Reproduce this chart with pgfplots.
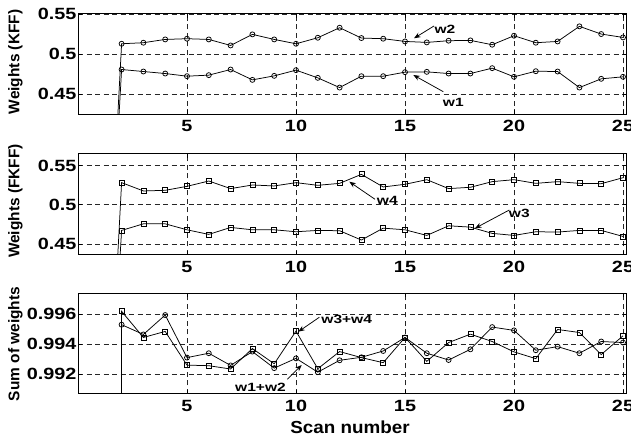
\documentclass[border=0pt]{standalone}
\usepackage{fontspec}
\setmainfont{Liberation Sans}
\newfontfamily\wide[FakeStretch=1.22]{Liberation Sans}
\newfontfamily\semi[FakeStretch=1.08]{Liberation Sans}
\newfontfamily\anno[FakeStretch=1.3]{Liberation Sans}
\usepackage{pgfplots}
\pgfplotsset{compat=1.18}
\usetikzlibrary{arrows.meta}

% KFF weights
\pgfplotstableread{
x w1 w2
1 0 0
2 0.4808 0.5129
3 0.4783 0.5142
4 0.4758 0.5183
5 0.4725 0.5192
6 0.4738 0.5183
7 0.4808 0.5108
8 0.4679 0.5246
9 0.4729 0.5183
10 0.4800 0.5129
11 0.4704 0.5204
12 0.4583 0.5329
13 0.4725 0.5200
14 0.4725 0.5192
15 0.4775 0.5158
16 0.4779 0.5146
17 0.4758 0.5167
18 0.4758 0.5171
19 0.4825 0.5117
20 0.4717 0.5229
21 0.4787 0.5142
22 0.4783 0.5158
23 0.4583 0.5346
24 0.4692 0.5250
25 0.4717 0.5208
}\kff
% FKFF weights
\pgfplotstableread{
x w3 w4
1 0 0
2 0.4674 0.5284
3 0.4758 0.5178
4 0.4758 0.5186
5 0.4682 0.5237
6 0.4623 0.5305
7 0.4712 0.5208
8 0.4682 0.5254
9 0.4682 0.5242
10 0.4657 0.5284
11 0.4674 0.5250
12 0.4670 0.5275
13 0.4551 0.5390
14 0.4703 0.5229
15 0.4682 0.5263
16 0.4610 0.5322
17 0.4733 0.5208
18 0.4716 0.5225
19 0.4636 0.5297
20 0.4610 0.5322
21 0.4657 0.5275
22 0.4653 0.5297
23 0.4674 0.5275
24 0.4674 0.5271
25 0.4597 0.5347
}\fkff
% sums
\pgfplotstableread{
x s12 s34
1 0 0
2 0.99530 0.99619
3 0.99465 0.99445
4 0.99594 0.99485
5 0.99311 0.99261
6 0.99340 0.99257
7 0.99259 0.99235
8 0.99351 0.99371
9 0.99241 0.99270
10 0.99306 0.99487
11 0.99214 0.99237
12 0.99293 0.99351
13 0.99313 0.99311
14 0.99355 0.99277
15 0.99445 0.99445
16 0.99340 0.99286
17 0.99295 0.99411
18 0.99366 0.99467
19 0.99514 0.99418
20 0.99492 0.99349
21 0.99360 0.99304
22 0.99384 0.99498
23 0.99340 0.99478
24 0.99418 0.99331
25 0.99411 0.99456
}\sums

\pgfplotsset{
  panel/.style={
    scale only axis, width=548.7bp,
    anchor=south west,
    xmin=0, xmax=25.17,
    xtick={5,10,15,20,25},
    xticklabels={5,10,15,20,25},
    grid=major,
    major grid style={black!85, dash pattern=on 5bp off 3.5bp, line width=0.8bp},
    tick align=inside, major tick length=4bp,
    axis line style={line width=1bp},
    tick style={black, line width=0.8bp},
    ticklabel style={font=\wide\bfseries\fontsize{16.3}{16.3}\selectfont},
    xticklabel style={yshift=-2.5bp},
    yticklabel style={xshift=2bp},
    every axis plot/.append style={black, line width=0.75bp, mark size=2.5bp},
  }
}

\begin{document}
\begin{tikzpicture}[x=1bp,y=1bp]
\useasboundingbox (0,0) rectangle (631,-438);

\begin{axis}[panel, at={(78bp,-114.3bp)}, height=100.3bp,
  ymin=0.425, ymax=0.55, ytick={0.45,0.5,0.55}, yticklabels={0.45,0.5,0.55}]
  \addplot[mark=o] table[x=x, y=w2] {\kff};
  \addplot[mark=o] table[x=x, y=w1] {\kff};
\end{axis}

\begin{axis}[panel, at={(78bp,-255bp)}, height=101bp,
  ymin=0.436, ymax=0.565, ytick={0.45,0.5,0.55}, yticklabels={0.45,0.5,0.55}]
  \addplot[mark=square] table[x=x, y=w4] {\fkff};
  \addplot[mark=square] table[x=x, y=w3] {\fkff};
\end{axis}

\begin{axis}[panel, at={(78bp,-394bp)}, height=100.7bp,
  ymin=0.9907, ymax=0.9974, ytick={0.992,0.994,0.996}, yticklabels={0.992,0.994,0.996}]
  \addplot[mark=o] table[x=x, y=s12] {\sums};
  \addplot[mark=square] table[x=x, y=s34] {\sums};
\end{axis}

% axis titles
\begin{scope}[font=\bfseries\fontsize{15.5}{15.5}\selectfont]
\node[rotate=90] at (15.5,-62) {Weights (KFF)};
\node[rotate=90] at (15.5,-201) {Weights (FKFF)};
\node[rotate=90] at (15.5,-344) {Sum of weights};
\end{scope}
\node[font=\semi\bfseries\fontsize{17.5}{17.5}\selectfont] at (350,-427.5) {Scan number};

% annotations
\begin{scope}[font=\anno\bfseries\fontsize{12}{12}\selectfont, line width=0.75bp,
  >={Stealth[length=6.5bp,width=5bp]}]
\node at (445,-29.3) {w2};
\draw[->] (434,-26) -- (414,-38.3);
\node at (453.3,-102.3) {w1};
\draw[->] (443.3,-91.7) -- (413.3,-75);
\node at (387.3,-200) {w4};
\draw[->] (375,-199.3) -- (349.3,-181.7);
\node at (519.3,-213.3) {w3};
\draw[->] (509.3,-210) -- (475,-228.3);
\node at (346.7,-319.3) {w3+w4};
\draw[->] (319.3,-317.3) -- (298.3,-331.7);
\node at (260.5,-387.3) {w1+w2};
\draw[->] (287.3,-379.3) -- (301.7,-365);
\end{scope}
\end{tikzpicture}
\end{document}
